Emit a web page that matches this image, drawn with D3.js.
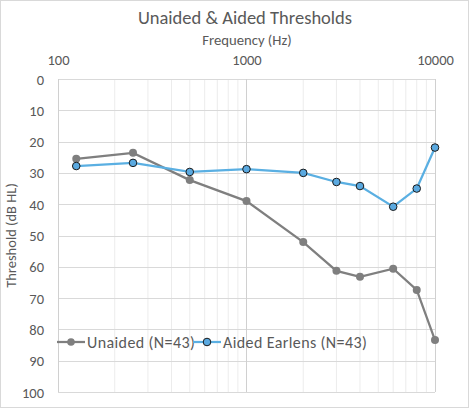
<!DOCTYPE html>
<html>
<head>
<meta charset="utf-8">
<script src="https://cdn.jsdelivr.net/npm/d3@7"></script>
<style>
  body { margin: 0; background: #fff; }
  text { font-family: Calibri, Carlito, "Open Sans", sans-serif; }
</style>
</head>
<body>
<div id="chart"></div>
<script>
// data
const freqs = [125, 250, 500, 1000, 2000, 3000, 4000, 6000, 8000, 10000];
const unaided = [25.5, 23.6, 32.3, 39, 52.1, 61.3, 63.2, 60.6, 67.4, 83.4];
const aided = [27.8, 26.8, 29.7, 28.8, 30, 32.9, 34.2, 40.8, 35, 21.9];
const xTicks = [100, 1000, 10000];
const yTicks = [0, 10, 20, 30, 40, 50, 60, 70, 80, 90, 100];

const W = 470, H = 410;
const margin = { top: 79, right: 35, bottom: 18, left: 58 };
const width = W - margin.left - margin.right;
const height = H - margin.top - margin.bottom;

const root = d3.select("#chart").append("svg")
  .attr("width", W).attr("height", H);

// chart border
root.append("rect")
  .attr("x", 0.5).attr("y", 0.5)
  .attr("width", W - 2).attr("height", H - 3)
  .attr("fill", "#fff").attr("stroke", "#d9d9d9");

const svg = root.append("g")
  .attr("transform", `translate(${margin.left},${margin.top})`);

const x = d3.scaleLog().domain([100, 10000]).range([0, width]);
const y = d3.scaleLinear().domain([0, 100]).range([0, height]);

// minor grid
const minor = [];
[100, 1000].forEach(d => { for (let k = 2; k <= 9; k++) minor.push(d * k); });
svg.selectAll(".minor").data(minor).enter().append("line")
  .attr("x1", d => x(d)).attr("x2", d => x(d))
  .attr("y1", 0).attr("y2", height)
  .attr("stroke", "#ececec").attr("stroke-width", 1);

// horizontal grid
svg.selectAll(".hgrid").data(yTicks).enter().append("line")
  .attr("x1", 0).attr("x2", width)
  .attr("y1", d => Math.round(y(d)) + 0.5).attr("y2", d => Math.round(y(d)) + 0.5)
  .attr("stroke", "#d9d9d9");

// major verticals
svg.selectAll(".major").data(xTicks).enter().append("line")
  .attr("x1", d => Math.round(x(d)) + 0.5).attr("x2", d => Math.round(x(d)) + 0.5)
  .attr("y1", 0).attr("y2", height)
  .attr("stroke", "#d0d0d0");

// axes
const xAxis = svg.append("g")
  .call(d3.axisTop(x).tickValues(xTicks).tickFormat(d3.format("d")).tickSize(0).tickPadding(14));
const yAxis = svg.append("g")
  .call(d3.axisLeft(y).tickValues(yTicks).tickSize(0).tickPadding(14));
[xAxis, yAxis].forEach(a => {
  a.select(".domain").remove();
  a.selectAll("text").attr("fill", "#595959").attr("font-size", "14.5px")
    .style("font-family", "Calibri, Carlito, 'Open Sans', sans-serif");
});
yAxis.selectAll("text").attr("dy", "0.35em");

// series lines
const line = d3.line().x((d, i) => x(freqs[i])).y(d => y(d));
svg.append("path").datum(unaided)
  .attr("d", line).attr("fill", "none")
  .attr("stroke", "#7f7f7f").attr("stroke-width", 2.25);
svg.append("path").datum(aided)
  .attr("d", line).attr("fill", "none")
  .attr("stroke", "#5aafe2").attr("stroke-width", 2.25);

svg.selectAll(".pu").data(unaided).enter().append("circle")
  .attr("cx", (d, i) => x(freqs[i])).attr("cy", d => y(d)).attr("r", 4)
  .attr("fill", "#7f7f7f");
svg.selectAll(".pa").data(aided).enter().append("circle")
  .attr("cx", (d, i) => x(freqs[i])).attr("cy", d => y(d)).attr("r", 3.8)
  .attr("fill", "#5aa9e0").attr("stroke", "#1a1a1a").attr("stroke-width", 1);

// title & axis titles
root.append("text").attr("x", 245).attr("y", 24)
  .attr("text-anchor", "middle").attr("font-size", "18.5px").attr("fill", "#595959")
  .text("Unaided & Aided Thresholds");
root.append("text").attr("x", 247).attr("y", 45)
  .attr("text-anchor", "middle").attr("font-size", "14.7px").attr("fill", "#595959")
  .text("Frequency (Hz)");
root.append("text")
  .attr("transform", `translate(16,${margin.top + height / 2}) rotate(-90)`)
  .attr("text-anchor", "middle").attr("font-size", "14.5px").attr("fill", "#595959")
  .text("Threshold (dB HL)");

// legend
const legend = [
  { name: "Unaided (N=43)", color: "#7f7f7f", fill: "#7f7f7f", stroke: "none", x0: 57 },
  { name: "Aided Earlens (N=43)", color: "#5aafe2", fill: "#5aa9e0", stroke: "#1a1a1a", x0: 193 }
];
const ly = 342;
legend.forEach(l => {
  root.append("line").attr("x1", l.x0).attr("x2", l.x0 + 28)
    .attr("y1", ly).attr("y2", ly).attr("stroke", l.color).attr("stroke-width", 2.25);
  root.append("circle").attr("cx", l.x0 + 14).attr("cy", ly).attr("r", 3.8)
    .attr("fill", l.fill).attr("stroke", l.stroke);
  root.append("text").attr("x", l.x0 + 30).attr("y", ly).attr("dy", "0.35em")
    .attr("font-size", "16px").attr("letter-spacing", "0.4px")
    .attr("fill", "#595959").text(l.name);
});
</script>
</body>
</html>
